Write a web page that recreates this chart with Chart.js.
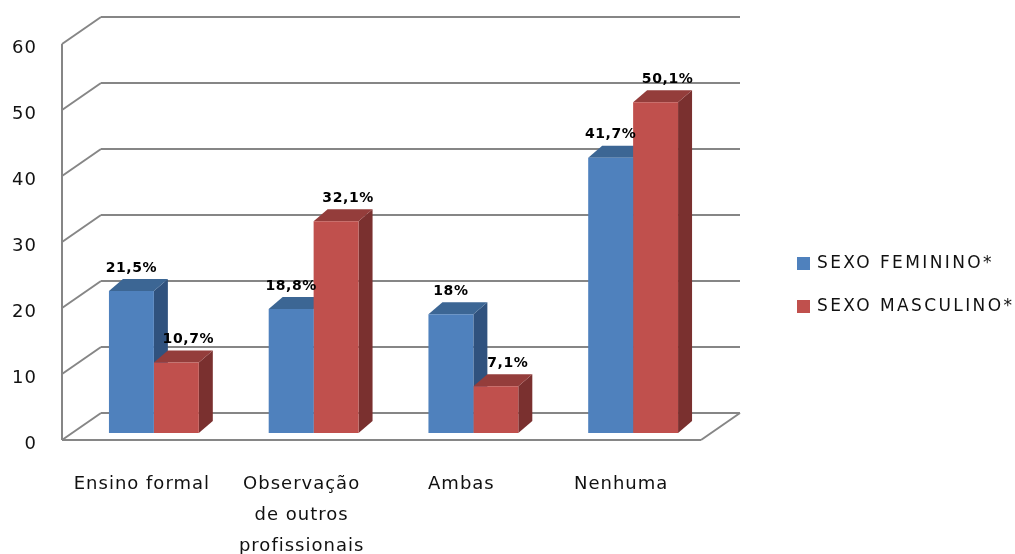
<!DOCTYPE html>
<html>
<head>
<meta charset="utf-8">
<script src="https://cdn.jsdelivr.net/npm/chart.js@4/dist/chart.umd.min.js"></script>
<style>
  html, body { margin: 0; padding: 0; background: #ffffff; }
  #wrap { width: 1015px; height: 554px; }
</style>
</head>
<body>
<div id="wrap"><canvas id="chart" width="1015" height="554"></canvas></div>
<script>
// ---- data ----
const categories = [['Ensino formal'], ['Observação', 'de outros', 'profissionais'], ['Ambas'], ['Nenhuma']];
const seriesNames = ['SEXO FEMININO*', 'SEXO MASCULINO*'];
const feminino = [21.5, 18.8, 18, 41.7];
const masculino = [10.7, 32.1, 7.1, 50.1];
const yTicks = [0, 10, 20, 30, 40, 50, 60];

// ---- look ----
const FONT = '"DejaVu Sans", sans-serif';
const GRID = '#868686';
const faces = [
    { front: '#4f81bd', top: '#3c6694', side: '#30527e' },
    { front: '#c0504d', top: '#943d3b', side: '#7a302f' }
];
const BAR_D = { x: 14, y: -12 };   // depth of a column
const BACK = { x: 27, y: -20 };    // back wall relative to column fronts
const FRONT = { x: -12, y: 7 };    // front floor edge / axis
const LABEL_SHIFT = [0, 12];       // value label nudge per series

function fmt(v) {
    return String(v).replace('.', ',') + '%';
}

function line(ctx, x1, y1, x2, y2) {
    ctx.beginPath();
    ctx.moveTo(x1, y1);
    ctx.lineTo(x2, y2);
    ctx.stroke();
}

function poly(ctx, pts, color) {
    ctx.beginPath();
    ctx.moveTo(pts[0][0], pts[0][1]);
    for (let i = 1; i < pts.length; i++) ctx.lineTo(pts[i][0], pts[i][1]);
    ctx.closePath();
    ctx.fillStyle = color;
    ctx.fill();
}

const depthPlugin = {
    id: 'depth3d',
    beforeDatasetsDraw(chart) {
        const ctx = chart.ctx;
        const ys = chart.scales.y;
        const area = chart.chartArea;
        const y0 = ys.getPixelForValue(0);

        ctx.save();
        ctx.strokeStyle = GRID;
        ctx.lineWidth = 2;

        // back wall gridlines + left wall diagonals
        yTicks.forEach(t => {
            const y = ys.getPixelForValue(t);
            line(ctx, area.left + BACK.x, y + BACK.y, area.right + BACK.x, y + BACK.y);
            line(ctx, area.left + FRONT.x, y + FRONT.y, area.left + BACK.x, y + BACK.y);
        });

        // front vertical axis
        line(ctx, area.left + FRONT.x, ys.getPixelForValue(60) + FRONT.y, area.left + FRONT.x, y0 + FRONT.y);

        // floor
        line(ctx, area.left + FRONT.x, y0 + FRONT.y, area.right + FRONT.x, y0 + FRONT.y);
        line(ctx, area.right + FRONT.x, y0 + FRONT.y, area.right + BACK.x, y0 + BACK.y);

        // side and top faces, fronts are drawn by chart.js afterwards
        chart.data.datasets.forEach((ds, di) => {
            const meta = chart.getDatasetMeta(di);
            meta.data.forEach(el => {
                const p = el.getProps(['x', 'y', 'base', 'width'], true);
                const L = p.x - p.width / 2, R = p.x + p.width / 2;
                poly(ctx, [[R, p.y], [R + BAR_D.x, p.y + BAR_D.y], [R + BAR_D.x, p.base + BAR_D.y], [R, p.base]], faces[di].side);
                poly(ctx, [[L, p.y], [R, p.y], [R + BAR_D.x, p.y + BAR_D.y], [L + BAR_D.x, p.y + BAR_D.y]], faces[di].top);
            });
        });
        ctx.restore();
    },
    afterDatasetsDraw(chart) {
        const ctx = chart.ctx;
        ctx.save();
        ctx.fillStyle = '#000000';
        ctx.font = 'bold 14px ' + FONT;
        ctx.letterSpacing = '0.6px';
        ctx.textAlign = 'center';
        ctx.textBaseline = 'middle';
        chart.data.datasets.forEach((ds, di) => {
            const meta = chart.getDatasetMeta(di);
            meta.data.forEach((el, i) => {
                const p = el.getProps(['x', 'y'], true);
                ctx.fillText(fmt(ds.data[i]), p.x + LABEL_SHIFT[di], p.y - 23);
            });
        });
        ctx.restore();
    },
    afterDraw(chart) {
        const ctx = chart.ctx;
        const ys = chart.scales.y;
        const xs = chart.scales.x;
        ctx.save();
        ctx.fillStyle = '#111111';

        // y tick labels
        ctx.font = '18px ' + FONT;
        ctx.letterSpacing = '1px';
        ctx.textAlign = 'right';
        ctx.textBaseline = 'middle';
        yTicks.forEach(t => {
            ctx.fillText(String(t), 37, ys.getPixelForValue(t) + 11);
        });

        // category labels
        ctx.textAlign = 'center';
        const base = ys.getPixelForValue(0);
        categories.forEach((lines, i) => {
            const x = xs.getPixelForValue(i) - 12;
            lines.forEach((s, k) => ctx.fillText(s, x, base + 51 + k * 31));
        });

        // legend
        ctx.textAlign = 'left';
        ctx.font = '17px ' + FONT;
        ctx.letterSpacing = '2.4px';
        seriesNames.forEach((name, i) => {
            const cy = 263 + i * 43;
            ctx.fillStyle = faces[i].front;
            ctx.fillRect(797, cy - 6, 13, 13);
            ctx.fillStyle = '#111111';
            ctx.fillText(name, 817, cy + 1);
        });
        ctx.restore();
    }
};

new Chart(document.getElementById('chart').getContext('2d'), {
    type: 'bar',
    data: {
        labels: categories,
        datasets: [
            { label: seriesNames[0], data: feminino, backgroundColor: faces[0].front },
            { label: seriesNames[1], data: masculino, backgroundColor: faces[1].front }
        ]
    },
    options: {
        responsive: false,
        animation: false,
        devicePixelRatio: 1,
        layout: { padding: { left: 74, right: 302, top: 37, bottom: 121 } },
        datasets: { bar: { barPercentage: 1, categoryPercentage: 0.5625 } },
        plugins: { legend: { display: false }, tooltip: { enabled: false } },
        scales: {
            x: { display: false },
            y: { display: false, min: 0, max: 60 }
        }
    },
    plugins: [depthPlugin]
});
</script>
</body>
</html>
